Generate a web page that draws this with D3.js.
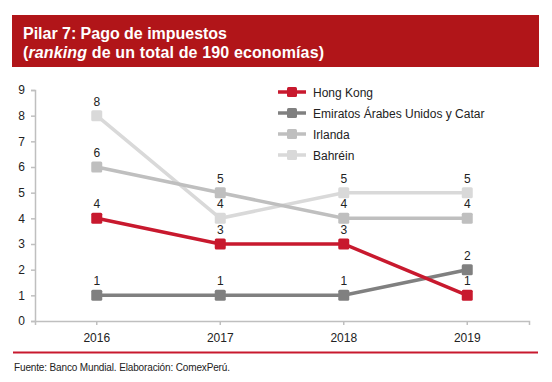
<!DOCTYPE html>
<html>
<head>
<meta charset="utf-8">
<script src="https://cdn.jsdelivr.net/npm/d3@7"></script>
<style>
html,body{margin:0;padding:0;background:#fff;}
svg{display:block;font-family:"Liberation Sans",Arial,sans-serif;}
</style>
</head>
<body>
<svg id="chart" width="552" height="382"></svg>
<script>
const years = ["2016", "2017", "2018", "2019"];
const seriesNames = ["Hong Kong", "Emiratos Árabes Unidos y Catar", "Irlanda", "Bahréin"];
const hongKong = [4, 3, 3, 1];
const emiratos = [1, 1, 1, 2];
const irlanda = [6, 5, 4, 4];
const bahrein = [8, 4, 5, 5];
const yTicks = [0, 1, 2, 3, 4, 5, 6, 7, 8, 9];
const colors = ["#c8192e", "#808080", "#bfbfbf", "#d9d9d9"];
const titleLine1 = "Pilar 7: Pago de impuestos";
const sourceText = "Fuente: Banco Mundial. Elaboración: ComexPerú.";

const seriesValues = [hongKong, emiratos, irlanda, bahrein];
const series = seriesNames.map((n, i) => ({name: n, values: seriesValues[i], color: colors[i]}));

const svg = d3.select("#chart");

// Header band
svg.append("rect").attr("x", 12).attr("y", 15).attr("width", 527).attr("height", 52).attr("fill", "#b11519");
svg.append("text").attr("x", 23).attr("y", 39).attr("fill", "#fff")
  .attr("font-size", 16).attr("font-weight", "bold")
  .attr("textLength", 204).attr("lengthAdjust", "spacing").text(titleLine1);
const t2 = svg.append("text").attr("x", 23).attr("y", 58).attr("fill", "#fff")
  .attr("font-size", 16).attr("font-weight", "bold")
  .attr("textLength", 301).attr("lengthAdjust", "spacing");
t2.append("tspan").text("(");
t2.append("tspan").attr("font-style", "italic").text("ranking");
t2.append("tspan").text(" de un total de 190 economías)");

// Scales
const x = d3.scaleBand().domain(years).range([35, 529]);
const y = d3.scaleLinear().domain([0, 9]).range([321, 90]);

// Y axis
const yAxis = svg.append("g").attr("transform", "translate(35,0)")
  .call(d3.axisLeft(y).tickValues(yTicks).tickSize(4).tickPadding(6).tickFormat(d3.format("d")));
yAxis.select(".domain").attr("stroke", "#bfbfbf").attr("stroke-width", 1.5);
yAxis.selectAll(".tick line").attr("stroke", "#bfbfbf").attr("stroke-width", 1.5);
yAxis.selectAll(".tick text").attr("font-size", 12).attr("fill", "#222")
  .attr("font-family", "Liberation Sans, Arial, sans-serif");

// X axis
const xAxis = svg.append("g").attr("transform", "translate(0,321)")
  .call(d3.axisBottom(x).tickSize(4).tickSizeOuter(4).tickPadding(8));
xAxis.select(".domain").attr("stroke", "#bfbfbf").attr("stroke-width", 1.5);
xAxis.selectAll(".tick line").attr("stroke", "#bfbfbf").attr("stroke-width", 1.5);
xAxis.selectAll(".tick text").attr("font-size", 12).attr("fill", "#222")
  .attr("font-family", "Liberation Sans, Arial, sans-serif");

const cx = d => x(d) + x.bandwidth() / 2;
const line = d3.line().x((d, i) => cx(years[i])).y(d => y(d));

// Draw series (reverse so Hong Kong on top)
const drawOrder = series.slice().reverse();
const g = svg.append("g");
drawOrder.forEach(s => {
  g.append("path").attr("d", line(s.values)).attr("fill", "none")
    .attr("stroke", s.color).attr("stroke-width", 3.5);
  g.selectAll(null).data(s.values).enter().append("rect")
    .attr("x", (d, i) => cx(years[i]) - 5.5).attr("y", d => y(d) - 5.5)
    .attr("width", 11).attr("height", 11).attr("rx", 1.5)
    .attr("fill", s.color);
});
// Data labels
series.forEach(s => {
  g.selectAll(null).data(s.values).enter().append("text")
    .attr("x", (d, i) => cx(years[i])).attr("y", d => y(d) - 10)
    .attr("text-anchor", "middle").attr("font-size", 12).attr("fill", "#222")
    .text(d => d);
});

// Legend
const lg = svg.append("g");
series.forEach((s, i) => {
  const ly = 92 + i * 21;
  lg.append("line").attr("x1", 278).attr("x2", 306).attr("y1", ly).attr("y2", ly)
    .attr("stroke", s.color).attr("stroke-width", 3.5);
  lg.append("rect").attr("x", 287).attr("y", ly - 5).attr("width", 10).attr("height", 10)
    .attr("rx", 1.5).attr("fill", s.color);
  lg.append("text").attr("x", 313).attr("y", ly + 4.5).attr("font-size", 12).attr("fill", "#222").text(s.name);
});

// Bottom rule and source
svg.append("line").attr("x1", 13).attr("x2", 538).attr("y1", 352.5).attr("y2", 352.5)
  .attr("stroke", "#c8192e").attr("stroke-width", 2);
svg.append("text").attr("x", 14).attr("y", 371).attr("font-size", 10).attr("fill", "#222")
  .attr("textLength", 216).attr("lengthAdjust", "spacing").text(sourceText);
</script>
</body>
</html>
